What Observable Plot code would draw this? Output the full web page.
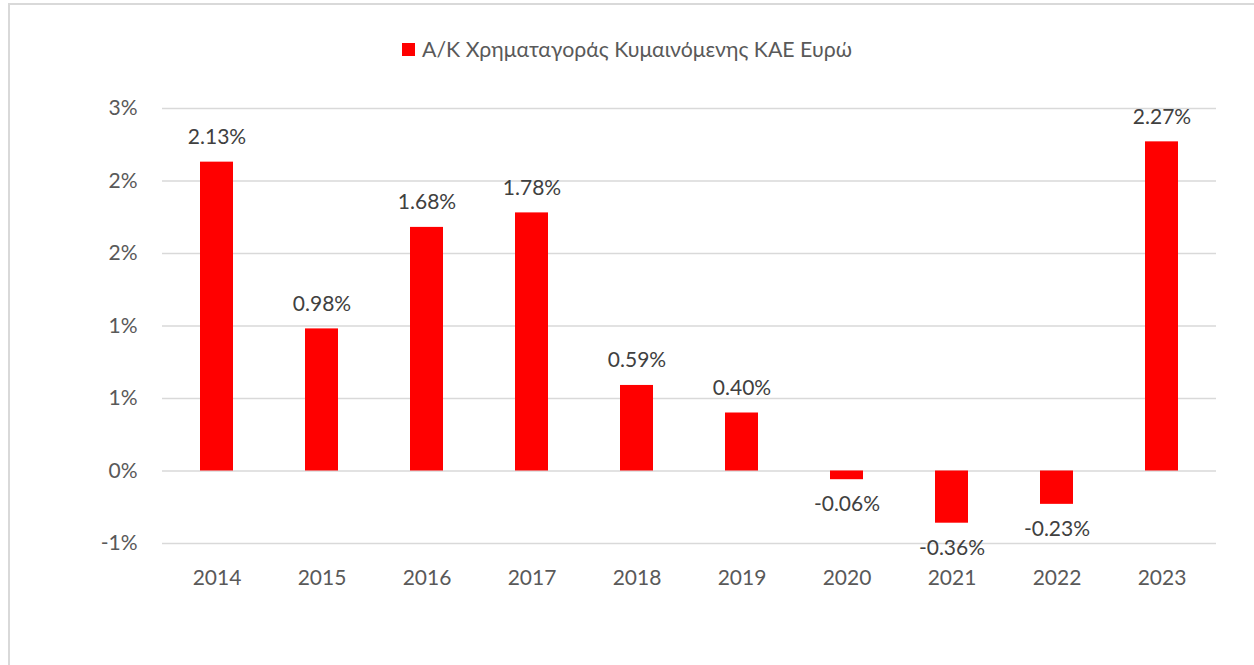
<!DOCTYPE html>
<html>
<head>
<meta charset="utf-8">
<script src="https://cdn.jsdelivr.net/npm/d3@7"></script>
<script src="https://cdn.jsdelivr.net/npm/@observablehq/plot@0.6"></script>
<style>
  html, body { margin: 0; padding: 0; background: #fff; }
  body { width: 1254px; height: 665px; overflow: hidden; position: relative; font-family: Lato, "Open Sans", sans-serif; }
  #frame { position: absolute; left: 8px; top: 3px; width: 1260px; height: 720px; border: 2px solid #d9d9d9; box-sizing: border-box; }
  #legend { position: absolute; left: 0; top: 0; width: 1254px; height: 90px; display: flex; justify-content: center; align-items: center; padding-top: 8px; box-sizing: border-box; font-size: 21.3px; color: #595959; }
  #legend .sw { width: 13px; height: 13px; background: #ff0000; margin-right: 7px; }
  #chart { position: absolute; left: 0; top: 90px; }
</style>
</head>
<body>
<div id="frame"></div>
<div id="legend"><span class="sw"></span><span>Α/Κ Χρηματαγοράς Κυμαινόμενης ΚΑΕ Ευρώ</span></div>
<div id="chart"></div>
<script>
const seriesName = "Α/Κ Χρηματαγοράς Κυμαινόμενης ΚΑΕ Ευρώ";
const years = ["2014","2015","2016","2017","2018","2019","2020","2021","2022","2023"];
const values = [2.13, 0.98, 1.68, 1.78, 0.59, 0.40, -0.06, -0.36, -0.23, 2.27];
const yTicks = [-0.5, 0, 0.5, 1, 1.5, 2, 2.5];

const data = years.map((y, i) => ({year: y, value: values[i]}));
const fmtTick = d => (d < 0 ? "-" : "") + Math.round(Math.abs(d)) + "%";
const fmtLabel = d => d.toFixed(2) + "%";

const chart = Plot.plot({
  width: 1254,
  height: 575,
  marginLeft: 162,
  marginRight: 38,
  marginTop: 18,
  marginBottom: 122,
  style: {fontFamily: "Lato, 'Open Sans', sans-serif", fontSize: "21px", color: "#595959", background: "transparent"},
  x: {domain: years, paddingInner: 0.687, paddingOuter: 0.3435, label: null, tickSize: 0, tickPadding: 27},
  y: {domain: [-0.5, 2.5], ticks: yTicks, tickFormat: fmtTick, label: null, tickSize: 0, tickPadding: 25},
  marks: [
    Plot.ruleY(yTicks, {stroke: "#d9d9d9", strokeWidth: 1.5}),
    Plot.barY(data, {x: "year", y: "value", fill: "#ff0000"}),
    Plot.text(data.filter(d => d.value >= 0), {x: "year", y: "value", text: d => fmtLabel(d.value), dy: -25, fill: "#404040", fontSize: 21}),
    Plot.text(data.filter(d => d.value < 0), {x: "year", y: "value", text: d => fmtLabel(d.value), dy: 25, fill: "#404040", fontSize: 21})
  ]
});
document.getElementById("chart").appendChild(chart);
</script>
</body>
</html>
